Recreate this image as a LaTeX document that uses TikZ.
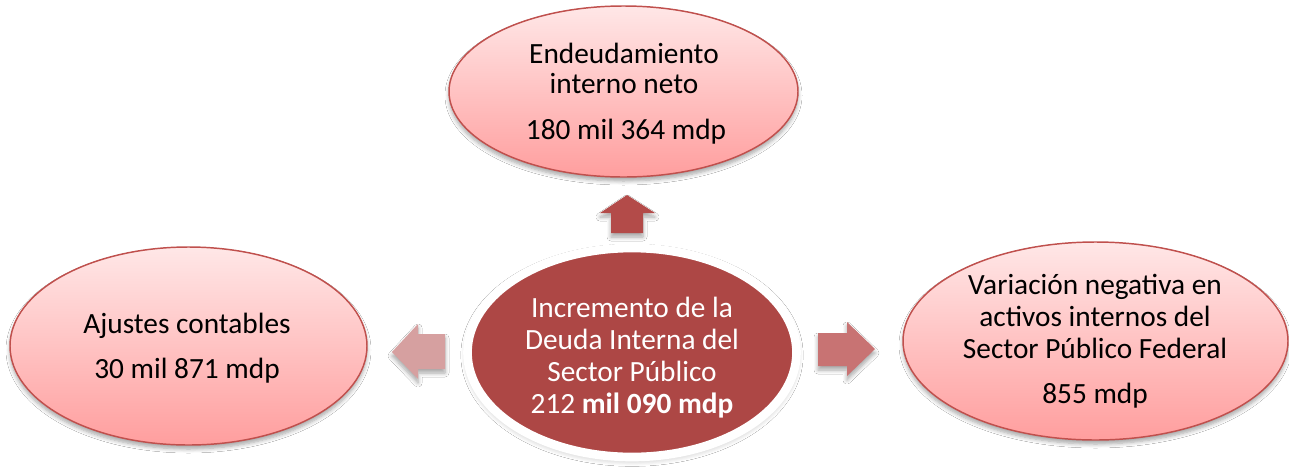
\documentclass[tikz,border=0pt]{standalone}
\usepackage{fontspec}
\setmainfont{Carlito}
\usetikzlibrary{shapes.geometric,shadows.blur}
\definecolor{pinkline}{HTML}{C0504D}
\definecolor{pinktop}{HTML}{FFE7E7}
\definecolor{pinkbot}{HTML}{FF9E9E}
\definecolor{core}{HTML}{AD4745}
\definecolor{arrowup}{HTML}{B34B49}
\definecolor{arrowleft}{HTML}{D6A0A0}
\definecolor{arrowright}{HTML}{C87373}
\begin{document}
\begin{tikzpicture}[x=0.75pt,y=-0.75pt,
  softshadow/.style={blur shadow={shadow xshift=0pt, shadow yshift=-3pt, shadow blur radius=3pt, shadow blur steps=6, shadow opacity=35}},
  bubble/.style={ellipse, draw=pinkline, line width=1.1pt, top color=pinktop, bottom color=pinkbot, inner sep=0pt, softshadow},
  hub/.style={ellipse, draw=white, line width=6.5pt, fill=core, inner sep=0pt, blur shadow={shadow xshift=0pt, shadow yshift=-2pt, shadow blur radius=5pt, shadow blur steps=8, shadow opacity=30}},
  txt/.style={anchor=base, inner sep=0pt, font=\fontsize{22pt}{26pt}\selectfont},
  blockarrow/.style={draw=none, softshadow}]
\useasboundingbox (0,0) rectangle (1289,472);
\fill[white] (0,0) rectangle (1289,472);

% ellipses
\node[bubble, minimum width=261.75pt, minimum height=128.25pt] (top) at (623.5,91.5) {};
\node[bubble, minimum width=267.75pt, minimum height=148.5pt] (left) at (188.5,346) {};
\node[bubble, minimum width=288.75pt, minimum height=148.5pt] (right) at (1095.5,341) {};
\node[hub, minimum width=246.75pt, minimum height=156.75pt] (hub) at (632,352.5) {};

% block arrows
\fill[arrowup, blockarrow] (611,233) -- (611,213) -- (600,213) -- (627,195) -- (655,213) -- (643,213) -- (643,233) -- cycle;
\fill[arrowleft, blockarrow] (445,334) -- (418,334) -- (418,324) -- (392,352) -- (418,379) -- (418,369) -- (445,369) -- cycle;
\fill[arrowright, blockarrow] (818,333) -- (847,333) -- (847,322) -- (875,349) -- (847,376) -- (847,366) -- (818,366) -- cycle;

% texts
\node[txt] (top1) at (624,63) {Endeudamiento};
\node[txt] (top2) at (624,93) {interno neto};
\node[txt] (top3) at (626,139) {180 mil 364 mdp};

\node[txt] (left1) at (187,333) {Ajustes contables};
\node[txt] (left2) at (187,378) {30 mil 871 mdp};

\node[txt] (right1) at (1095,294) {Variación negativa en};
\node[txt] (right2) at (1095,326) {activos internos del};
\node[txt] (right3) at (1095,358) {Sector Público Federal};
\node[txt] (right4) at (1095,403) {855 mdp};

\node[txt, text=white] (hub1) at (632,317) {Incremento de la};
\node[txt, text=white] (hub2) at (632,349) {Deuda Interna del};
\node[txt, text=white] (hub3) at (632,381) {Sector Público};
\node[txt, text=white] (hub4) at (632,413) {212 \textbf{mil 090 mdp}};
\end{tikzpicture}
\end{document}
